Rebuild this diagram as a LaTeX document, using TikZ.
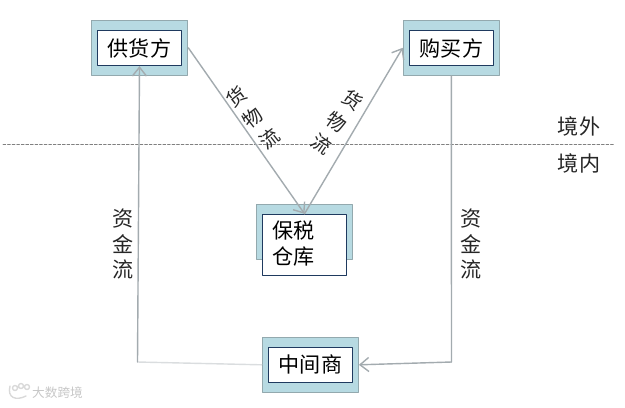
\documentclass[tikz,border=0pt]{standalone}
\usepackage{fontspec}
\setmainfont{Noto Sans CJK SC}
\usetikzlibrary{arrows.meta}
\definecolor{shellc}{HTML}{B7DAE2}
\definecolor{shelld}{HTML}{93A9AE}
\definecolor{coren}{HTML}{1F3A5F}
\definecolor{linkc}{HTML}{A3ABAF}
\begin{document}
\begin{tikzpicture}[x=0.02cm,y=-0.02cm,>={Straight Barb[length=5pt,width=8pt]},line cap=round,line join=round]
\tikzset{
shell/.style={draw=shelld, line width=0.7pt, fill=shellc, minimum width=1.92cm, minimum height=1.1cm, inner sep=0pt},
corebox/.style={draw=coren, line width=0.7pt, fill=white, minimum width=1.69cm, minimum height=0.7cm, inner sep=0pt, font=\fontsize{12}{14}\selectfont},
link/.style={draw=linkc, line width=0.8pt},
tag/.style={font=\fontsize{12}{14.7}\selectfont, align=center, inner sep=0pt, text=black!85},
slanttag/.style={font=\fontsize{11}{15.2}\selectfont, align=center, inner sep=0pt, text=black!85},
markline/.style={draw=black!15, line width=0.8pt}
}
\useasboundingbox (0,0) rectangle (625,407);

\node[shell] (supplyshell) at (139.7,47.8) {};
\node[corebox] (supply) at (139.5,48) {供货方};
\node[shell] (buyershell) at (451.3,47.8) {};
\node[corebox] (buyer) at (451.5,48) {购买方};
\node[shell] (storeshell) at (304.5,231.7) {};
\node[corebox, minimum height=1.22cm, align=left, text width=1.3cm, text height=0.3cm] (store) at (304.5,244.9) {保税\\[0.5pt]仓库};
\node[shell] (midshell) at (310.3,364.8) {};
\node[corebox] (mid) at (310.5,364.8) {中间商};

\coordinate (lineL) at (3,144.5);
\coordinate (lineR) at (615,144.5);
\coordinate (turnL) at (137.5,362);
\coordinate (turnR) at (451.5,362);
\draw[black!50, dash pattern=on 1.6pt off 1pt, line width=0.4pt] (lineL) -- (lineR);

\draw[link, ->] (supplyshell.east) -- (store.north);
\draw[link, ->] (store.north) -- (buyershell.west);
\draw[link, draw=linkc!40] (midshell.west) -- (turnL);
\draw[link, ->] (turnL) -- (supply.south);
\draw[link] (buyershell.south) -- (turnR);
\draw[link, ->] (turnR) -- (midshell.east);

\node[slanttag, rotate=38] (goodsL) at (253,118) {货\\物\\流};
\node[slanttag, rotate=-35] (goodsR) at (337,122) {货\\物\\流};
\node[tag] (cashL) at (123,244) {资\\金\\流};
\node[tag] (cashR) at (471,244) {资\\金\\流};
\node[tag] (abroad) at (579,126) {境外};
\node[tag] (home) at (579,163) {境内};

% faint mark, lower left
\node[font=\fontsize{7.2}{8}\selectfont, text=black!22, inner sep=0pt] (mark) at (57.5,393) {大数跨境};
\draw[markline] (10,386) .. controls (7,398) and (16,401) .. (26,396);
\draw[markline] (15,388) circle (2.5) (21,386) circle (2.5) (27,387) circle (2.5);
\end{tikzpicture}
\end{document}
